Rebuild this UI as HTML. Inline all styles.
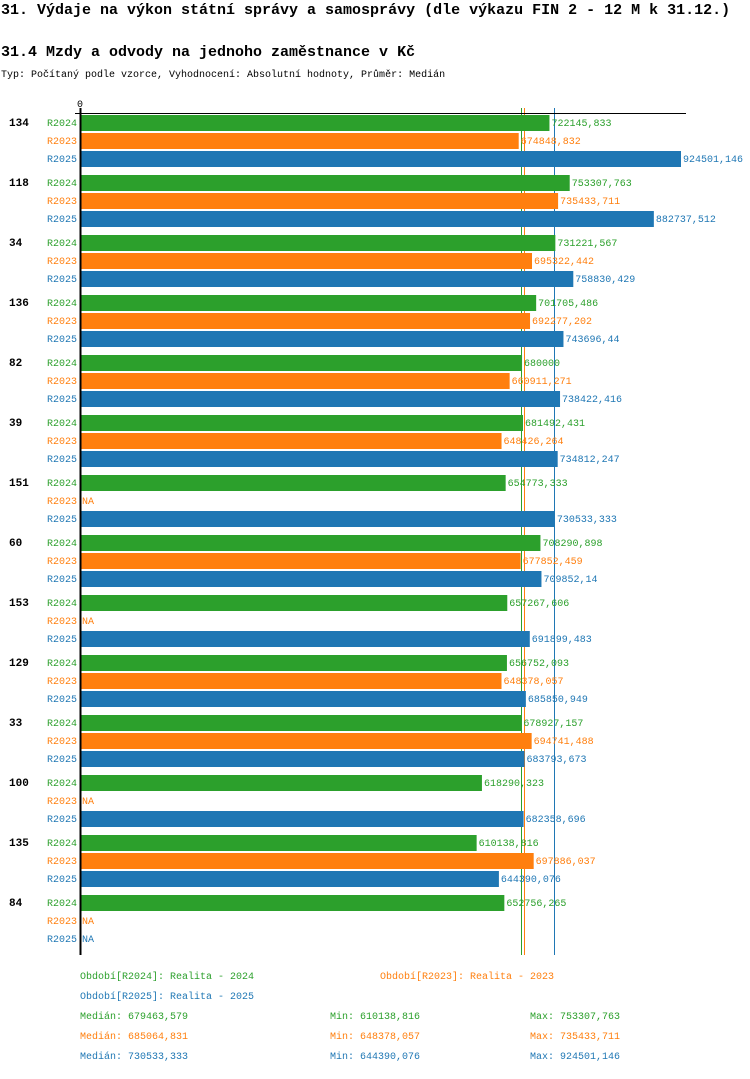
<!DOCTYPE html>
<html><head><meta charset="utf-8"><style>
body{margin:0;background:#fff;width:750px;height:1074px;overflow:hidden;font-family:"Liberation Mono",monospace}
svg text{font-family:"Liberation Mono",monospace}
</style></head><body>
<svg id="c" width="750" height="1074">
<text x="1" y="14" font-size="15" font-weight="bold">31. Výdaje na výkon státní správy a samosprávy (dle výkazu FIN 2 - 12 M k 31.12.)</text>
<text x="1" y="56" font-size="15" font-weight="bold">31.4 Mzdy a odvody na jednoho zaměstnance v Kč</text>
<text x="1" y="77" font-size="10">Typ: Počítaný podle vzorce, Vyhodnocení: Absolutní hodnoty, Průměr: Medián</text>
</svg>
<script>
const categories=["134","118","34","136","82","39","151","60","153","129","33","100","135","84"];
const seriesNames=["R2024","R2023","R2025"];
const r2024=[722145.833,753307.763,731221.567,701705.486,680000,681492.431,654773.333,708290.898,657267.606,656752.093,678927.157,618290.323,610138.816,652756.265];
const r2023=[674848.832,735433.711,695322.442,692277.202,660911.271,648426.264,null,677852.459,null,648378.057,694741.488,null,697886.037,null];
const r2025=[924501.146,882737.512,758830.429,743696.44,738422.416,734812.247,730533.333,709852.14,691899.483,685850.949,683793.673,682358.696,644390.076,null];
const labels2024=["722145,833","753307,763","731221,567","701705,486","680000","681492,431","654773,333","708290,898","657267,606","656752,093","678927,157","618290,323","610138,816","652756,265"];
const labels2023=["674848,832","735433,711","695322,442","692277,202","660911,271","648426,264","NA","677852,459","NA","648378,057","694741,488","NA","697886,037","NA"];
const labels2025=["924501,146","882737,512","758830,429","743696,44","738422,416","734812,247","730533,333","709852,14","691899,483","685850,949","683793,673","682358,696","644390,076","NA"];
const medians=[679463.579,685064.831,730533.333];
const statsText=[["Medián: 679463,579","Min: 610138,816","Max: 753307,763"],["Medián: 685064,831","Min: 648378,057","Max: 735433,711"],["Medián: 730533,333","Min: 644390,076","Max: 924501,146"]];
const colors=["#2ca02c","#ff7f0e","#1f77b4"];
const svg=document.getElementById('c');const NS="http://www.w3.org/2000/svg";
const maxV=Math.max(...r2025.filter(v=>v!=null),...r2024,...r2023.filter(v=>v!=null));
const x=v=>80+v*601/maxV;
const y=(g,s)=>115+g*60+s*18;
function el(t,a,txt){const e=document.createElementNS(NS,t);for(const k in a)e.setAttribute(k,a[k]);if(txt!=null)e.textContent=txt;svg.appendChild(e);return e;}
const all=[r2024,r2023,r2025],labs=[labels2024,labels2023,labels2025];
medians.forEach((m,i)=>{const l=el('line',{x1:Math.round(x(m))-0.5,x2:Math.round(x(m))-0.5,y1:108,y2:955,stroke:colors[i],'stroke-width':1});
 
 });
const ax=el('line',{x1:80,x2:686,y1:113.5,y2:113.5,stroke:'#000','stroke-width':1});


categories.forEach((c,g)=>{
 const t=el('text',{x:9,y:y(g,0)+11,'font-size':11,'font-weight':'bold'},c);
 
 
 for(let s=0;s<3;s++){
  const l=el('text',{x:47,y:y(g,s)+11,'font-size':10,fill:colors[s]},seriesNames[s]);
  
  
  const v=all[s][g];let end=82;
  if(v!=null){const r=el('rect',{x:81,y:y(g,s),width:x(v)-81,height:16,fill:colors[s]});
   
   end=x(v)+2;}
  const vt=el('text',{x:end,y:y(g,s)+11,'font-size':10,fill:colors[s]},labs[s][g]);
  
  
 }
});
const ay=el('line',{x1:80.5,x2:80.5,y1:108,y2:955,stroke:'#000','stroke-width':2});


const tk=el('line',{x1:75,x2:81,y1:113.5,y2:113.5,stroke:'#000'});


const z=el('text',{x:77,y:107,'font-size':10},'0');


const leg=[["Období[R2024]: Realita - 2024",80,979,0],["Období[R2023]: Realita - 2023",380,979,1],["Období[R2025]: Realita - 2025",80,999,2]];
leg.forEach(a=>{const t=el('text',{x:a[1],y:a[2],'font-size':10,fill:colors[a[3]]},a[0]);
 
 });
statsText.forEach((row,i)=>{[80,330,530].forEach((xx,j)=>{const t=el('text',{x:xx,y:1019+i*20,'font-size':10,fill:colors[i]},row[j]);
 
 });});
</script>
</body></html>
